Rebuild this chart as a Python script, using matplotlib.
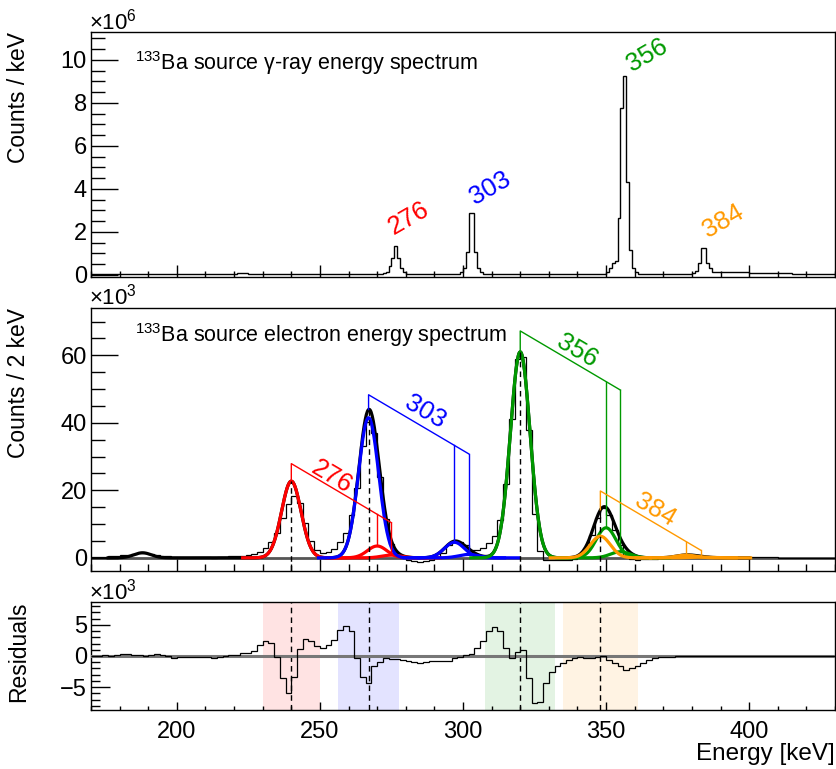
"""133Ba gamma / conversion-electron spectra with fit and residuals."""

import numpy as np
import matplotlib

matplotlib.use("Agg")
import matplotlib.pyplot as plt
from matplotlib.ticker import MultipleLocator

plt.rcParams["font.family"] = ["Liberation Sans", "DejaVu Sans"]
plt.rcParams["mathtext.fontset"] = "custom"
plt.rcParams["mathtext.rm"] = "Liberation Sans"
plt.rcParams["mathtext.it"] = "Liberation Sans:italic"

# ---- gamma-ray spectrum (counts / keV, units of 1e6), variable-width steps
gamma_edges = [170, 221, 225, 272, 273, 274, 275, 276, 277, 278, 279, 280,
               299, 300, 301, 302, 303, 304, 305, 306, 307,
               350, 351, 352, 353, 354, 355, 356, 357, 358, 359, 360, 361,
               380, 381, 382, 383, 384, 385, 386, 387, 388, 400, 415, 430]
gamma_counts = [0.05, 0.08, 0.05, 0.08, 0.15, 0.42, 0.80, 1.35, 0.80, 0.30, 0.12,
                0.06, 0.15, 0.31, 1.08, 2.87, 2.87, 1.08, 0.30, 0.12,
                0.05, 0.15, 0.30, 0.55, 0.65, 2.65, 7.75, 9.25, 4.30, 1.16, 0.32, 0.12,
                0.06, 0.10, 0.20, 0.55, 1.27, 1.27, 0.55, 0.30, 0.15, 0.12, 0.08, 0.04]

# ---- electron spectrum (counts / 2 keV, units of 1e3), bins 170..430
e_edges = np.arange(170, 432, 2)
e_counts = [0.3, 0.3, 0.3, 0.4, 0.5, 0.7, 0.9, 1.1, 1.4, 1.5,
            1.2, 0.9, 0.6, 0.4, 0.1, 0.1, 0.15, 0.2, 0.2, 0.2,
            0.1, 0.0, 0.2, 0.3, 0.4, 0.5, 0.6, 0.7, 1.0, 1.8,
            3.0, 4.8, 7.5, 11.9, 15.8, 18.4, 16.2, 10.2, 5.0, 2.3,
            1.5, 1.8, 2.7, 4.7, 7.4, 12.8, 20.7, 33.1, 40.1, 37.0,
            23.8, 11.5, 4.0, 1.1, -0.1, -0.6, -0.95, -1.1, -0.95, -0.5,
            0.2, 1.5, 3.8, 4.7, 4.6, 3.7, 2.4, 2.3, 2.9, 4.5,
            6.4, 11.3, 22.0, 41.2, 58.9, 59.4, 37.8, 13.1, 2.0, -0.5,
            -0.7, -0.7, -0.6, -0.5, -0.2, 0.8, 2.85, 6.8, 11.7, 14.7,
            12.8, 8.3, 3.8, 0.8, -0.3, -0.5, -0.4, -0.3, -0.2, 0.0,
            0.1, 0.2, 0.3, 0.5, 0.7, 0.8, 0.6, 0.4, 0.3, 0.2,
            0.2, 0.2, 0.15, 0.15, 0.1, 0.1, 0.1, 0.1, 0.1, 0.1,
            0.05, 0.05, 0.05, 0.05, 0.05, 0.05, 0.05, 0.05, 0.05, 0.05]

# ---- residuals (data - fit, units of 1e3), same bins
residuals = [0.0, 0.0, 0.1, 0.0, 0.1, 0.3, 0.35, 0.2, 0.1, 0.0,
             0.2, 0.3, 0.2, 0.0, -0.3, -0.2, -0.15, -0.1, -0.1, -0.1,
             -0.2, -0.3, -0.1, 0.0, 0.1, 0.2, 0.45, 0.5, 0.85, 1.8,
             2.35, 2.1, -0.2, -3.5, -5.9, -3.3, 1.1, 2.7, 2.4, 1.6,
             1.3, 1.8, 2.6, 4.2, 4.8, 4.0, -0.3, -3.4, -4.3, -1.65,
             -1.0, -0.4, -0.5, -0.5, -0.65, -0.8, -1.0, -1.1, -1.0, -0.8,
             -0.75, -0.75, -0.8, -0.3, -0.2, 0.1, 0.4, 1.3, 2.45, 4.05,
             4.6, 3.95, 1.3, -0.3, 0.6, 1.0, -3.6, -7.6, -7.4, -4.3,
             -2.5, -1.6, -1.1, -0.6, -0.4, -0.2, -0.3, -0.4, -0.2, 0.0,
             -0.6, -1.2, -1.6, -2.2, -2.0, -1.6, -1.1, -0.7, -0.4, -0.2,
             -0.1, -0.1, -0.05, -0.05, -0.05, 0.0, 0.0, -0.05, -0.05, 0.0,
             0.0, 0.0, -0.05, -0.05, 0.0, 0.0, 0.0, 0.0, 0.0, 0.0,
             0.0, 0.0, 0.0, 0.0, 0.0, 0.0, 0.0, 0.0, 0.0, 0.0]

# ---- fit components: one K / L / M gaussian triplet per gamma line
line_names = ["276", "303", "356", "384"]
line_colors = ["#ff0000", "#0000ff", "#009900", "#ff9900"]
k_energy = [240.0, 267.0, 320.0, 348.0]
l_energy = [270.0, 297.0, 350.0, 378.0]
m_energy = [275.0, 302.0, 355.0, 383.0]
k_amp = [22.7, 41.5, 61.0, 6.4]
l_amp = [3.5, 4.6, 8.9, 0.8]
m_amp = [0.8, 1.0, 1.8, 0.2]
line_sigma = [3.4, 3.5, 3.45, 3.5]
bump_energy, bump_amp, bump_sigma = 188.0, 1.5, 3.0

bracket_top = [27.9, 48.3, 67.2, 19.8]
bracket_slope = 0.5
elabel_pos = [(254.1, 24.0), (286.7, 43.2), (339.8, 61.4), (367.1, 14.1)]
glabel_pos = [(280.9, 2.64), (309.4, 4.03), (364.4, 10.2), (391.0, 2.48)]
band_lo = [230.2, 256.4, 307.7, 335.1]
band_hi = [250.0, 277.6, 332.2, 361.1]


def gauss(x, mu, amp, sig):
    return amp * np.exp(-0.5 * ((x - mu) / sig) ** 2)


def total_fit(x):
    y = gauss(x, bump_energy, bump_amp, bump_sigma)
    for i in range(4):
        for mu, a in ((k_energy[i], k_amp[i]), (l_energy[i], l_amp[i]), (m_energy[i], m_amp[i])):
            y = y + gauss(x, mu, a, line_sigma[i])
    return y


W, H = 837, 769
fig = plt.figure(figsize=(W / 100, H / 100), dpi=100)


def px_axes(top, bottom):
    return fig.add_axes([91 / W, 1 - bottom / H, 744 / W, (bottom - top) / H])


ax1 = px_axes(32, 277)
ax2 = px_axes(308, 571)
ax3 = px_axes(602, 710)

tick_fs = 17
for ax, xlen, ylen in ((ax1, (8.6, 4.5), (19.5, 10)), (ax2, (8.6, 5), (19.5, 10)), (ax3, (5.8, 2.9), (13.7, 6.5))):
    ax.set_xlim(170, 430)
    ax.xaxis.set_major_locator(MultipleLocator(50))
    ax.xaxis.set_minor_locator(MultipleLocator(10))
    ax.tick_params(axis="both", which="both", direction="in", top=False, right=False,
                   labelsize=tick_fs, width=1.0, pad=3)
    ax.tick_params(axis="x", which="major", length=xlen[0])
    ax.tick_params(axis="x", which="minor", length=xlen[1])
    ax.tick_params(axis="y", which="major", length=ylen[0])
    ax.tick_params(axis="y", which="minor", length=ylen[1])
    for s in ax.spines.values():
        s.set_linewidth(1.0)
ax1.tick_params(axis="x", labelbottom=False)
ax2.tick_params(axis="x", labelbottom=False)
ax3.tick_params(axis="x", pad=8)

label_fs = 18.5

# ---- top: gamma spectrum
ax1.stairs(gamma_counts, gamma_edges, color="black", lw=1.0)
ax1.set_ylim(-0.1, 11.3)
ax1.yaxis.set_major_locator(MultipleLocator(2))
ax1.yaxis.set_minor_locator(MultipleLocator(0.5))
for name, col, (gx, gy) in zip(line_names, line_colors, glabel_pos):
    ax1.text(gx, gy, name, color=col, fontsize=label_fs, rotation=30, ha="center", va="center")

# ---- middle: electron spectrum with fit
ax2.set_ylim(-3.9, 74)
ax2.yaxis.set_major_locator(MultipleLocator(20))
ax2.yaxis.set_minor_locator(MultipleLocator(5))
ax2.axhline(0, color="#555555", lw=2.0, zorder=1)
ax2.stairs(e_counts, e_edges, color="black", lw=0.9, zorder=2)

xf = np.linspace(176, 400, 1200)
ax2.plot(xf, total_fit(xf), color="black", lw=2.3, zorder=3)
for i, col in enumerate(line_colors):
    for mu, a in ((k_energy[i], k_amp[i]), (l_energy[i], l_amp[i]), (m_energy[i], m_amp[i])):
        xs = np.linspace(mu - 5 * line_sigma[i], mu + 5 * line_sigma[i], 200)
        ax2.plot(xs, gauss(xs, mu, a, line_sigma[i]), color=col, lw=2.3, zorder=4)

ymin2 = ax2.get_ylim()[0]
for i, col in enumerate(line_colors):
    k, l, m, top = k_energy[i], l_energy[i], m_energy[i], bracket_top[i]
    y_l = top - bracket_slope * (l - k)
    y_m = top - bracket_slope * (m - k)
    ax2.plot([k, k, m], [float(total_fit(np.array(k))), top, y_m], color=col, lw=1.0, zorder=5)
    ax2.plot([l, l], [y_l, l_amp[i] + 0.5], color=col, lw=1.0, zorder=5)
    ax2.plot([m, m], [y_m, m_amp[i] + 0.5], color=col, lw=1.0, zorder=5)
    ax2.vlines(k, ymin2, float(total_fit(np.array(k))), colors="black", linestyles=(0, (4, 3)),
               lw=1.0, zorder=6)
    ex, ey = elabel_pos[i]
    ax2.text(ex, ey, line_names[i], color=col, fontsize=label_fs, ha="center", va="center",
             rotation=np.degrees(np.arctan2(-bracket_slope, 1.0)), transform_rotates_text=True,
             rotation_mode="anchor")

# ---- bottom: residuals
ax3.set_ylim(-8.65, 8.65)
ax3.yaxis.set_major_locator(MultipleLocator(5))
ax3.yaxis.set_minor_locator(MultipleLocator(1))
for lo, hi, col in zip(band_lo, band_hi, line_colors):
    ax3.axvspan(lo, hi, color=col, alpha=0.11, lw=0, zorder=0)
for k in k_energy:
    ax3.axvline(k, color="black", ls=(0, (4, 3)), lw=1.0, zorder=2)
ax3.axhline(0, color="#777777", lw=2.2, zorder=3)
ax3.stairs(residuals, e_edges, color="black", lw=0.9, zorder=4)
ax3.set_yticks([-5, 0, 5], ["\u22125", "0", "5"])

# ---- labels
fig.text(19 / W, 1 - 32 / H, "Counts / keV", rotation=90, ha="center", va="top", fontsize=16.5)
fig.text(19 / W, 1 - 308 / H, "Counts / 2 keV", rotation=90, ha="center", va="top", fontsize=16.5)
fig.text(19 / W, 1 - 602 / H, "Residuals", rotation=90, ha="center", va="top", fontsize=16.5)
fig.text(835 / W, 1 - 754 / H, "Energy [keV]", ha="right", va="center", fontsize=17.5)
fig.text(89 / W, 1 - 22 / H, "\u00d710$^{6}$", ha="left", va="center", fontsize=16)
fig.text(89 / W, 1 - 297 / H, "\u00d710$^{3}$", ha="left", va="center", fontsize=16)
fig.text(89 / W, 1 - 592 / H, "\u00d710$^{3}$", ha="left", va="center", fontsize=16)
fig.text(135 / W, 1 - 63 / H, "$^{133}$Ba source \u03b3-ray energy spectrum", ha="left", va="center",
         fontsize=15.5)
fig.text(135 / W, 1 - 335 / H, "$^{133}$Ba source electron energy spectrum", ha="left", va="center",
         fontsize=15.5)

fig.savefig("out.png", dpi=100)
